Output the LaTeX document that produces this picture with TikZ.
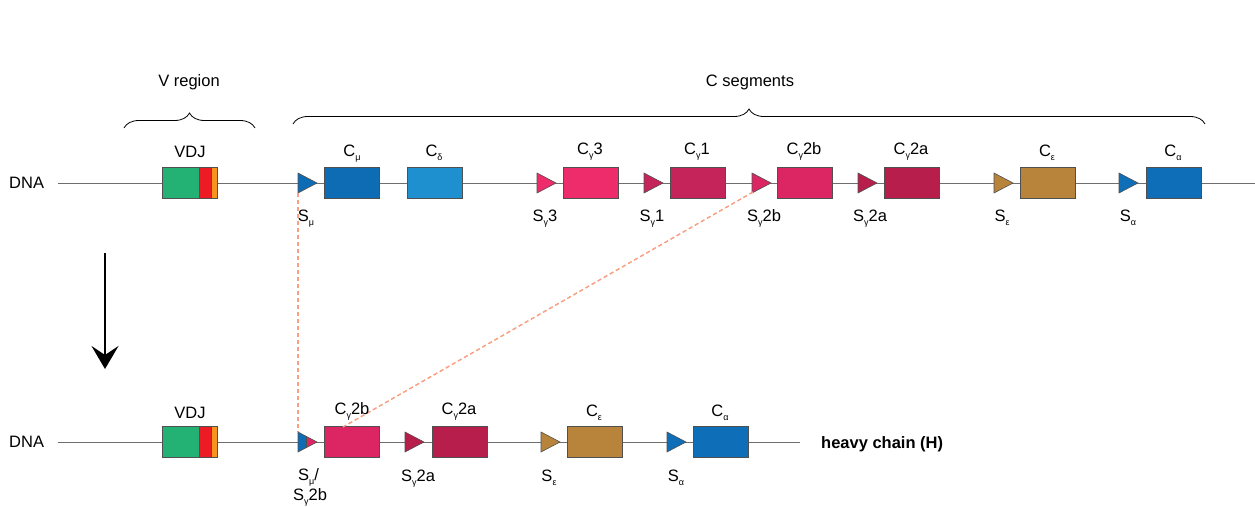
\documentclass[tikz,border=0pt]{standalone}
\usepackage{fontspec}
\setmainfont{Liberation Sans}
\usetikzlibrary{decorations.pathreplacing,arrows.meta}
\definecolor{vgreen}{RGB}{35,178,115}
\definecolor{vred}{RGB}{237,28,36}
\definecolor{vorange}{RGB}{247,148,29}
\definecolor{mublue}{RGB}{14,108,180}
\definecolor{deltablue}{RGB}{30,144,208}
\definecolor{gthree}{RGB}{238,44,108}
\definecolor{gone}{RGB}{196,36,90}
\definecolor{gtwob}{RGB}{220,38,100}
\definecolor{gtwoa}{RGB}{183,30,76}
\definecolor{epscol}{RGB}{184,132,60}
\definecolor{alphacol}{RGB}{14,110,183}
\definecolor{boxline}{RGB}{80,80,80}
\definecolor{dnaline}{RGB}{110,110,110}
\definecolor{dashcol}{RGB}{250,160,130}
\newcommand\sbs[1]{\raisebox{-0.5ex}{\fontsize{9}{9}\selectfont #1}}
\newcommand\stri[3]{\filldraw[tri, fill=#3] (#1,#2-10) -- (#1+19,#2) -- (#1,#2+10) -- cycle;}
\begin{document}
\begin{tikzpicture}[x=1pt,y=-1pt,
  every node/.style={font=\fontsize{16.5}{18}\selectfont, inner sep=0},
  cbox/.style={draw=boxline, line width=0.6pt, minimum width=55pt, minimum height=31pt, inner sep=0, anchor=west},
  tri/.style={draw=boxline, line width=0.6pt},
  lbl/.style={anchor=base},
  dnal/.style={draw=dnaline, line width=0.8pt},
  swline/.style={draw=dashcol, line width=1.2pt, dash pattern=on 4pt off 3pt},
  brc/.style={decorate, decoration={brace, amplitude=15pt}, line width=0.8pt}]
\useasboundingbox (0,0) rectangle (1255,506);

% ---------- top row ----------
\node[anchor=base west] (dna1) at (9,188) {DNA};
\coordinate (l1a) at (58,183);
\coordinate (l1b) at (1255,183);
\draw[dnal] (l1a) -- (l1b);

% switch lines (behind)
\coordinate (smutop) at (298,193);
\coordinate (smubot) at (298,432);
\coordinate (sg2btop) at (753,192);
\coordinate (cg2bbot) at (343,427);
\draw[swline] (smutop) -- (smubot);
\draw[swline] (sg2btop) -- (cg2bbot);

% VDJ top
\node[cbox, minimum width=55pt] (vdj1) at (162,183) {};
\fill[vgreen] (162,167.5) rectangle (199,198.5);
\fill[vred] (199,167.5) rectangle (211,198.5);
\fill[vorange] (211,167.5) rectangle (217,198.5);
\draw[boxline, line width=0.6pt] (162,167.5) rectangle (217,198.5);
\draw[boxline, line width=0.5pt] (199,167.5) -- (199,198.5) (211,167.5) -- (211,198.5);
\node[lbl] (vdjl1) at (190,157) {VDJ};

% braces
\draw[brc] (124,128) -- (255,128);
\node[lbl] (vreg) at (189,86) {V region};
\draw[brc] (293,124) -- (1205,124);
\node[lbl] (cseg) at (750,86) {C segments};

% switch triangles top
\stri{298}{183}{mublue}
\stri{537}{183}{gthree}
\stri{644}{183}{gone}
\stri{752}{183}{gtwob}
\stri{858}{183}{gtwoa}
\stri{994}{183}{epscol}
\stri{1119}{183}{alphacol}

% C boxes top
\node[cbox, fill=mublue] (cmu) at (324,183) {};
\node[cbox, fill=deltablue] (cdelta) at (407,183) {};
\node[cbox, fill=gthree] (cg3) at (563,183) {};
\node[cbox, fill=gone] (cg1) at (670,183) {};
\node[cbox, fill=gtwob] (cg2b) at (777,183) {};
\node[cbox, fill=gtwoa] (cg2a) at (884,183) {};
\node[cbox, fill=epscol] (ceps) at (1020,183) {};
\node[cbox, fill=alphacol] (calpha) at (1146,183) {};

% C labels top
\node[lbl] (lcmu) at (352,156) {C\sbs{μ}};
\node[lbl] (lcdelta) at (434,156) {C\sbs{δ}};
\node[lbl] (lcg3) at (590,154) {C\sbs{γ}3};
\node[lbl] (lcg1) at (697,154) {C\sbs{γ}1};
\node[lbl] (lcg2b) at (804,154) {C\sbs{γ}2b};
\node[lbl] (lcg2a) at (911,154) {C\sbs{γ}2a};
\node[lbl] (lceps) at (1047,156) {C\sbs{ε}};
\node[lbl] (lcalpha) at (1173,156) {C\sbs{α}};

% S labels top
\node[lbl] (lsmu) at (306,221) {S\sbs{μ}};
\node[lbl] (lsg3) at (545,221) {S\sbs{γ}3};
\node[lbl] (lsg1) at (652,221) {S\sbs{γ}1};
\node[lbl] (lsg2b) at (764,221) {S\sbs{γ}2b};
\node[lbl] (lsg2a) at (870,221) {S\sbs{γ}2a};
\node[lbl] (lseps) at (1002,221) {S\sbs{ε}};
\node[lbl] (lsalpha) at (1128,221) {S\sbs{α}};

% ---------- arrow ----------
\coordinate (arrA) at (105,253);
\coordinate (arrB) at (105,369);
\draw[line width=2pt, -{Stealth[length=23pt, width=27pt, inset=9pt]}] (arrA) -- (arrB);

% ---------- bottom row ----------
\node[anchor=base west] (dna2) at (9,447) {DNA};
\coordinate (l2a) at (58,442);
\coordinate (l2b) at (800,442);
\draw[dnal] (l2a) -- (l2b);
\draw[swline] (smutop) -- (smubot);

\node[cbox, minimum width=55pt] (vdj2) at (162,442) {};
\fill[vgreen] (162,426.5) rectangle (199,457.5);
\fill[vred] (199,426.5) rectangle (211,457.5);
\fill[vorange] (211,426.5) rectangle (217,457.5);
\draw[boxline, line width=0.6pt] (162,426.5) rectangle (217,457.5);
\draw[boxline, line width=0.5pt] (199,426.5) -- (199,457.5) (211,426.5) -- (211,457.5);
\node[lbl] (vdjl2) at (190,418) {VDJ};

% hybrid switch triangle
\fill[mublue] (298,432) -- (306,436.2) -- (306,447.8) -- (298,452) -- cycle;
\fill[gtwob] (306,436.2) -- (317,442) -- (306,447.8) -- cycle;
\draw[tri] (298,432) -- (317,442) -- (298,452) -- cycle;
\draw[boxline, line width=0.4pt] (306,436.2) -- (306,447.8);

\stri{405}{442}{gtwoa}
\stri{541}{442}{epscol}
\stri{667}{442}{alphacol}

\node[cbox, fill=gtwob] (bcg2b) at (324,442) {};
\node[cbox, fill=gtwoa] (bcg2a) at (432,442) {};
\node[cbox, fill=epscol] (bceps) at (567,442) {};
\node[cbox, fill=alphacol] (bcalpha) at (693,442) {};
\draw[swline] (sg2btop) -- (cg2bbot);

\node[lbl] (blcg2b) at (352,414) {C\sbs{γ}2b};
\node[lbl] (blcg2a) at (459,414) {C\sbs{γ}2a};
\node[lbl] (blceps) at (594,416) {C\sbs{ε}};
\node[lbl] (blcalpha) at (720,416) {C\sbs{α}};

\node[anchor=base west] (blsmu) at (298,480) {S\sbs{μ}/};
\node[anchor=base west] (blsg2b) at (293,500) {S\sbs{γ}2b};
\node[lbl] (blsg2a) at (418,481) {S\sbs{γ}2a};
\node[lbl] (blseps) at (549,481) {S\sbs{ε}};
\node[lbl] (blsalpha) at (676,481) {S\sbs{α}};

\node[anchor=base west, font=\fontsize{16.5}{18}\selectfont\bfseries] (heavy) at (821,448) {heavy chain (H)};
\end{tikzpicture}
\end{document}
